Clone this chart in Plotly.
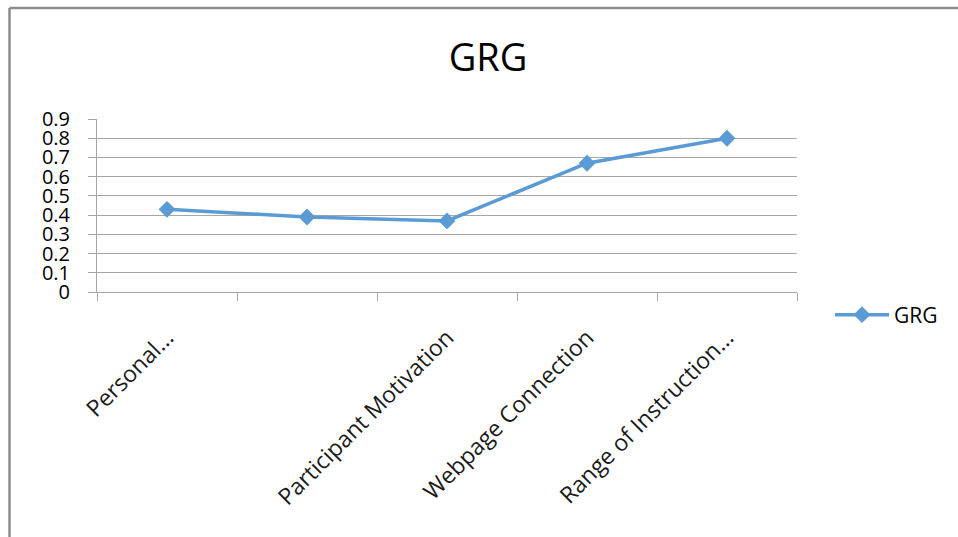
import plotly.graph_objects as go

categories = ["Personal...", "", "Participant Motivation", "Webpage Connection", "Range of Instruction..."]
grg_values = [0.43, 0.39, 0.37, 0.67, 0.80]
y_ticks = [0, 0.1, 0.2, 0.3, 0.4, 0.5, 0.6, 0.7, 0.8, 0.9]
y_tick_labels = ["0", "0.1", "0.2", "0.3", "0.4", "0.5", "0.6", "0.7", "0.8", "0.9"]

W, H = 958, 537
ML, MR, MT, MB = 97, 161, 119, 245
PW = W - ML - MR
PH = H - MT - MB

x_idx = list(range(len(categories)))
boundaries = [i - 0.5 for i in range(len(categories) + 1)]

FONT = "Open Sans"
BLUE = "#5B9BD5"
GRID = "#a6a6a6"

fig = go.Figure()
fig.add_trace(go.Scatter(
    x=x_idx, y=grg_values, name="GRG", mode="lines+markers",
    line=dict(color=BLUE, width=3.5),
    marker=dict(symbol="diamond", size=13, color=BLUE),
))

def px_to_paper_x(px):
    return (px - ML) / PW

def px_to_paper_y(py):
    return (H - MB - py) / PH

fig.update_layout(
    width=W, height=H,
    margin=dict(l=ML, r=MR, t=MT, b=MB),
    paper_bgcolor="white", plot_bgcolor="white",
    font=dict(family=FONT, color="#000000"),
    title=dict(text="GRG", x=488 / W, xanchor="center", y=1 - 58 / H, yanchor="middle",
               xref="container", yref="container", font=dict(size=38, family=FONT, color="#000")),
    showlegend=True,
    legend=dict(xref="container", yref="container", x=830 / W, y=1 - 315 / H,
                xanchor="left", yanchor="middle", font=dict(size=21, family=FONT, color="#000"),
                itemwidth=54,
                bgcolor="rgba(0,0,0,0)", borderwidth=0),
    xaxis=dict(
        range=[-0.5, len(categories) - 0.5],
        tickmode="array", tickvals=x_idx, ticktext=categories,
        tickangle=-45, ticks="", showgrid=False,
        tickfont=dict(size=23, family=FONT, color="#1a1a1a"),
        ticklabelstandoff=22,
        showline=True, linecolor=GRID, linewidth=1,
        zeroline=False,
        minor=dict(tickmode="array", tickvals=boundaries, ticks="outside",
                   ticklen=8, tickcolor=GRID, tickwidth=1, showgrid=False),
        fixedrange=True,
    ),
    yaxis=dict(
        range=[0, 0.9], tickmode="array", tickvals=y_ticks, ticktext=y_tick_labels,
        showgrid=True, gridcolor=GRID, gridwidth=1,
        ticks="outside", ticklen=8, tickcolor=GRID,
        showline=True, linecolor=GRID, linewidth=1,
        zeroline=False,
        tickfont=dict(size=20, family=FONT, color="#000"),
        ticklabelstandoff=14,
        fixedrange=True,
    ),
)

# outer chart border (left and top edges visible)
fig.add_shape(type="line", xref="paper", yref="paper",
              x0=px_to_paper_x(9.5), y0=px_to_paper_y(H + 5),
              x1=px_to_paper_x(9.5), y1=px_to_paper_y(8),
              line=dict(color="#8c8c8c", width=2.5))
fig.add_shape(type="line", xref="paper", yref="paper",
              x0=px_to_paper_x(9.5), y0=px_to_paper_y(8),
              x1=px_to_paper_x(W + 5), y1=px_to_paper_y(8),
              line=dict(color="#8c8c8c", width=2.5))

fig.write_html("out.html")
